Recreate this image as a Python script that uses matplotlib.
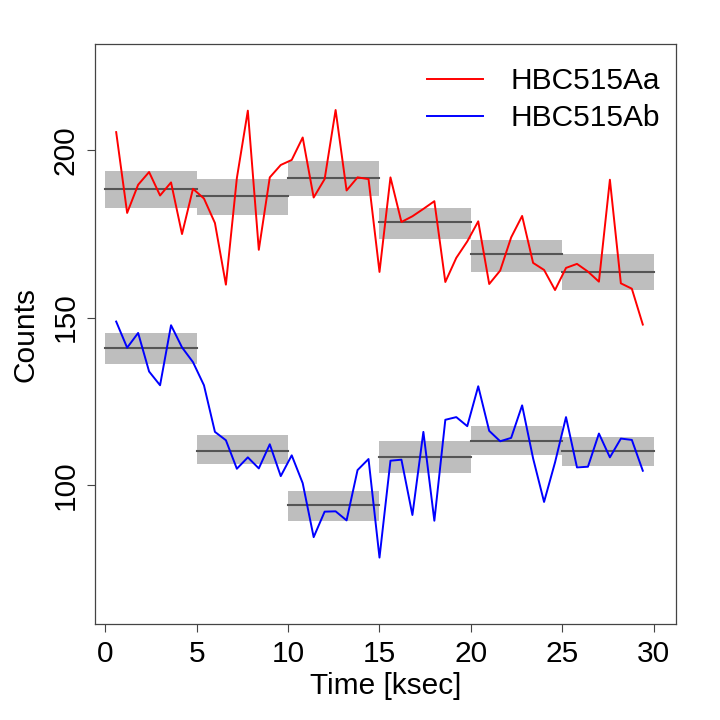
import numpy as np
import matplotlib
matplotlib.use("Agg")
import matplotlib.pyplot as plt

plt.rcParams['font.family'] = ['Liberation Sans', 'DejaVu Sans']

# time bins (ksec)
time = [0.6, 1.2, 1.8, 2.4, 3.0, 3.6, 4.2, 4.8, 5.4, 6.0,
        6.6, 7.2, 7.8, 8.4, 9.0, 9.6, 10.2, 10.8, 11.4, 12.0,
        12.6, 13.2, 13.8, 14.4, 15.0, 15.6, 16.2, 16.8, 17.4, 18.0,
        18.6, 19.2, 19.8, 20.4, 21.0, 21.6, 22.2, 22.8, 23.4, 24.0,
        24.6, 25.2, 25.8, 26.4, 27.0, 27.6, 28.2, 28.8, 29.4]

counts_aa = [205.3, 181.2, 189.6, 193.4, 186.4, 190.3, 174.9, 188.4, 185.5, 178.2,
             159.8, 191.6, 211.7, 170.2, 191.8, 195.5, 197.0, 203.7, 185.8, 191.3,
             211.9, 187.9, 191.8, 191.3, 163.6, 191.8, 178.5, 180.2, 182.4, 184.7,
             160.6, 167.8, 172.7, 178.7, 160.0, 164.0, 173.9, 180.3, 166.3, 164.2,
             158.2, 164.8, 166.0, 163.7, 160.7, 191.1, 160.2, 158.6, 147.9]

counts_ab = [148.8, 141.0, 145.4, 133.9, 129.8, 147.7, 141.1, 136.7, 129.8, 115.9,
             113.4, 104.9, 108.3, 105.0, 112.2, 102.7, 108.9, 100.6, 84.5, 92.1,
             92.2, 89.5, 104.5, 107.8, 78.4, 107.3, 107.6, 91.1, 115.9, 89.4,
             119.5, 120.3, 117.6, 129.5, 116.2, 113.1, 114.1, 123.8, 108.0, 95.0,
             106.8, 120.3, 105.3, 105.5, 115.4, 108.3, 113.9, 113.5, 104.3]

# 5 ksec block averages with their error bands
block_edges = [0, 5, 10, 15, 20, 25, 30]
mean_aa = [188.4, 186.1, 191.6, 178.6, 169.0, 163.6]
low_aa = [182.8, 180.7, 186.1, 173.3, 163.5, 158.1]
high_aa = [193.8, 191.4, 196.7, 182.7, 173.2, 168.8]
mean_ab = [140.8, 110.2, 94.0, 108.3, 113.1, 110.3]
low_ab = [136.1, 106.3, 89.4, 103.7, 109.0, 105.7]
high_ab = [145.5, 114.9, 98.2, 113.1, 117.6, 114.3]

fig = plt.figure(figsize=(7.2, 7.2), dpi=100)
ax = fig.add_axes([0.1319, 0.1329, 0.8066, 0.8056])

for means, lows, highs in [(mean_aa, low_aa, high_aa), (mean_ab, low_ab, high_ab)]:
    for i in range(len(means)):
        x0, x1 = block_edges[i], block_edges[i + 1]
        ax.fill_between([x0, x1], lows[i], highs[i], color='#bebebe', lw=0, zorder=1)
        ax.plot([x0, x1], [means[i], means[i]], color='#555555', lw=1.5, zorder=2)

ax.plot(time, counts_aa, color='red', lw=1.4, label='HBC515Aa', zorder=3)
ax.plot(time, counts_ab, color='blue', lw=1.4, label='HBC515Ab', zorder=3)

ax.set_xlim(-0.56, 31.2)
ax.set_ylim(58.5, 231.5)
ax.set_xticks([0, 5, 10, 15, 20, 25, 30])
ax.set_yticks([100, 150, 200])
ax.tick_params(direction='out', length=6, width=0.8, color='#444444',
               labelsize=21.5, pad=5)
for lab in ax.get_yticklabels():
    lab.set_rotation(90)
    lab.set_va('center')
for s in ax.spines.values():
    s.set_color('#444444')
    s.set_linewidth(0.9)

ax.set_xlabel('Time [ksec]', fontsize=21.5, labelpad=3)
ax.set_ylabel('Counts', fontsize=21.5, labelpad=9)

ax.legend(loc='upper right', bbox_to_anchor=(1.02, 1.007), frameon=False,
          fontsize=21.5, handlelength=1.85, handletextpad=0.95, labelspacing=0.3)

fig.savefig('out.png', dpi=100)
